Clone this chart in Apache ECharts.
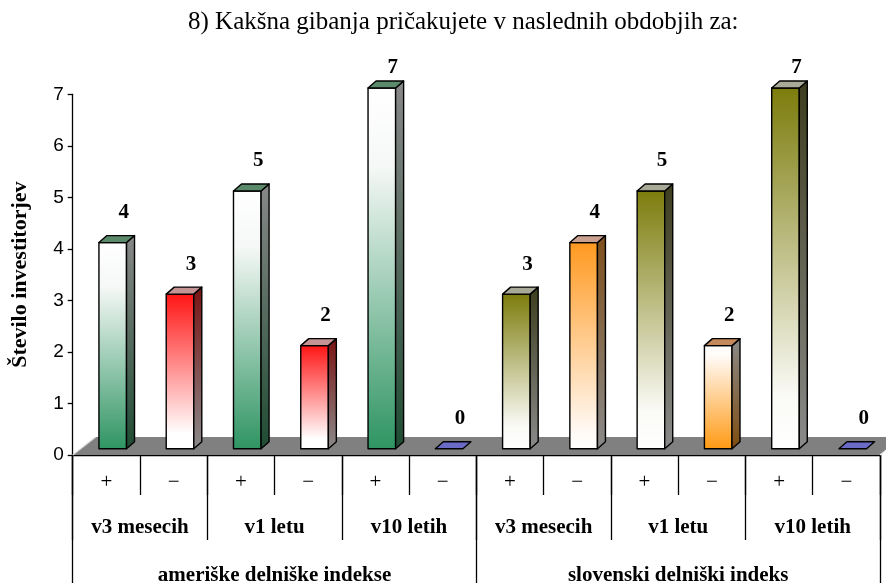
<!DOCTYPE html>
<html><head><meta charset="utf-8">
<script src="https://cdn.jsdelivr.net/npm/echarts@6/dist/echarts.min.js"></script>
<style>html,body{margin:0;padding:0;background:#fff}#c{width:886px;height:583px}</style>
</head><body><div id="c"></div>
<script>
// ---- data ----
const titleText = '8) Kakšna gibanja pričakujete v naslednih obdobjih za:';
const yAxisName = 'Število investitorjev';
const directions = ['+', '−', '+', '−', '+', '−', '+', '−', '+', '−', '+', '−'];
const periods = ['v3 mesecih', 'v1 letu', 'v10 letih', 'v3 mesecih', 'v1 letu', 'v10 letih'];
const markets = ['ameriške delniške indekse', 'slovenski delniški indeks'];
const values = [4, 3, 5, 2, 7, 0, 3, 4, 5, 2, 7, 0];
const yMin = 0, yMax = 7, yStep = 1;

// ---- styles ----
const STY = {
  green: { front: [[0, '#ffffff'], [0.22, '#f5f8f6'], [1, '#2e9462']], side: [[0, '#888888'], [1, '#1f4c33']], top: '#5a8a6a' },
  red: { front: [[0, '#ff1414'], [0.9, '#ffffff'], [1, '#ffffff']], side: [[0, '#7a1212'], [1, '#8a8a8a']], top: '#c49494' },
  olive: { front: [[0, '#7c7c0c'], [0.85, '#fafaf6'], [1, '#ffffff']], side: [[0, '#3d3d1e'], [1, '#8a8a8a']], top: '#a9a997' },
  orangeTop: { front: [[0, '#ff9920'], [0.92, '#fffaf6'], [1, '#ffffff']], side: [[0, '#7f4f1a'], [1, '#8a8a8a']], top: '#caa090' },
  orangeBottom: { front: [[0, '#ffffff'], [0.1, '#fffbf8'], [1, '#ff9912']], side: [[0, '#8a8a8a'], [1, '#7f4c10']], top: '#c48a5c' },
  blue: { flat: '#6b6bc6' }
};
const barStyleKeys = ['green', 'red', 'green', 'red', 'green', 'blue', 'olive', 'orangeTop', 'olive', 'orangeBottom', 'olive', 'blue'];

function grad(stops) {
  return new echarts.graphic.LinearGradient(0, 0, 0, 1, stops.map(s => ({ offset: s[0], color: s[1] })));
}

const DX = 8, DY = 7, SHIFT_Y = 6.3;
const serif = 'Liberation Serif, Times New Roman, serif';

function renderBar(params, api) {
  const i = api.value(0), v = api.value(1);
  const base = api.coord([i, 0]);
  const tp = api.coord([i, v]);
  const cw = api.size([1, 0])[0];
  const w = cw * 0.41;
  const cx = base[0] + cw * 0.095;
  const x0 = cx - w / 2, x1 = cx + w / 2;
  const yb = base[1] - SHIFT_Y, yt = tp[1] - SHIFT_Y;
  const st = STY[barStyleKeys[params.dataIndex]];
  const stroke = { stroke: '#000', lineWidth: 1.4, lineJoin: 'round' };
  const children = [];
  if (v === 0) {
    children.push({ type: 'polygon', shape: { points: [[x0, yb], [x1, yb], [x1 + DX, yb - DY], [x0 + DX, yb - DY]] },
      style: Object.assign({ fill: st.flat }, stroke) });
  } else {
    children.push({ type: 'rect', shape: { x: x0, y: yt, width: w, height: yb - yt },
      style: Object.assign({ fill: grad(st.front) }, stroke) });
    children.push({ type: 'polygon', shape: { points: [[x1, yt], [x1 + DX, yt - DY], [x1 + DX, yb - DY], [x1, yb]] },
      style: Object.assign({ fill: grad(st.side) }, stroke) });
    children.push({ type: 'polygon', shape: { points: [[x0, yt], [x0 + DX, yt - DY], [x1 + DX, yt - DY], [x1, yt]] },
      style: Object.assign({ fill: st.top }, stroke) });
  }
  const ly = Math.max(yt - DY - 23, 68);
  children.push({ type: 'text', style: { text: String(v), x: cx + 11, y: ly, align: 'center', verticalAlign: 'middle',
    font: 'bold 21px ' + serif, fill: '#000' } });
  return { type: 'group', children };
}

function renderFloor(params, api) {
  const cs = params.coordSys;
  const y0 = api.coord([0, 0])[1];
  const L = cs.x, R = cs.x + cs.width;
  const fx = 23, fy = 18;
  return { type: 'group', children: [
    { type: 'polygon', shape: { points: [[L, y0], [R, y0], [R + fx, y0 - fy], [L + fx, y0 - fy]] }, style: { fill: '#808080' } },
    { type: 'line', shape: { x1: L, y1: y0, x2: L + fx, y2: y0 - fy }, style: { stroke: '#dcdcdc', lineWidth: 1.2 } },
    { type: 'line', shape: { x1: R, y1: y0, x2: R + fx, y2: y0 - fy }, style: { stroke: '#e8e8e8', lineWidth: 1.2 } }
  ] };
}

const chart = echarts.init(document.getElementById('c'), null, { renderer: 'canvas' });
const tickStyle = { color: '#000', width: 1.3 };
chart.setOption({
  animation: false,
  backgroundColor: '#fff',
  title: { text: titleText, left: 183, top: 5,
    textStyle: { fontFamily: serif, fontWeight: 'normal', fontSize: 25, color: '#000' } },
  grid: { left: 72.7, right: 6, top: 94.3, bottom: 128, containLabel: false, outerBoundsMode: 'none' },
  xAxis: [
    { type: 'category', data: directions, position: 'bottom',
      axisLine: { show: true, lineStyle: tickStyle },
      axisTick: { show: true, interval: 0, length: 40, lineStyle: tickStyle },
      axisLabel: { interval: 0, margin: 17, fontFamily: serif, fontSize: 21, color: '#000' } },
    { type: 'category', data: periods, position: 'bottom',
      axisLine: { show: false },
      axisTick: { show: true, interval: 0, length: 85, lineStyle: tickStyle },
      axisLabel: { interval: 0, margin: 62, fontFamily: serif, fontWeight: 'bold', fontSize: 21, color: '#000' } },
    { type: 'category', data: markets, position: 'bottom',
      axisLine: { show: false },
      axisTick: { show: true, interval: 0, length: 128, lineStyle: tickStyle },
      axisLabel: { interval: 0, margin: 110, fontFamily: serif, fontWeight: 'bold', fontSize: 21, color: '#000' } }
  ],
  yAxis: { type: 'value', min: yMin, max: yMax, interval: yStep,
    name: yAxisName, nameLocation: 'middle', nameGap: 41, nameRotate: 90,
    nameTextStyle: { fontFamily: serif, fontWeight: 'bold', fontSize: 22, color: '#000' },
    axisLine: { show: true, lineStyle: tickStyle },
    axisTick: { show: true, length: 5, lineStyle: tickStyle },
    axisLabel: { fontFamily: 'Liberation Sans, Arial, sans-serif', fontSize: 19, color: '#000', margin: 9 },
    splitLine: { show: false } },
  series: [
    { type: 'custom', xAxisIndex: 0, yAxisIndex: 0, renderItem: renderFloor, data: [[0, 0]], z: 1, silent: true, clip: false },
    { type: 'custom', xAxisIndex: 0, yAxisIndex: 0, renderItem: renderBar,
      data: values.map((v, i) => [i, v]), z: 2, silent: true, clip: false }
  ]
});
</script>
</body></html>
